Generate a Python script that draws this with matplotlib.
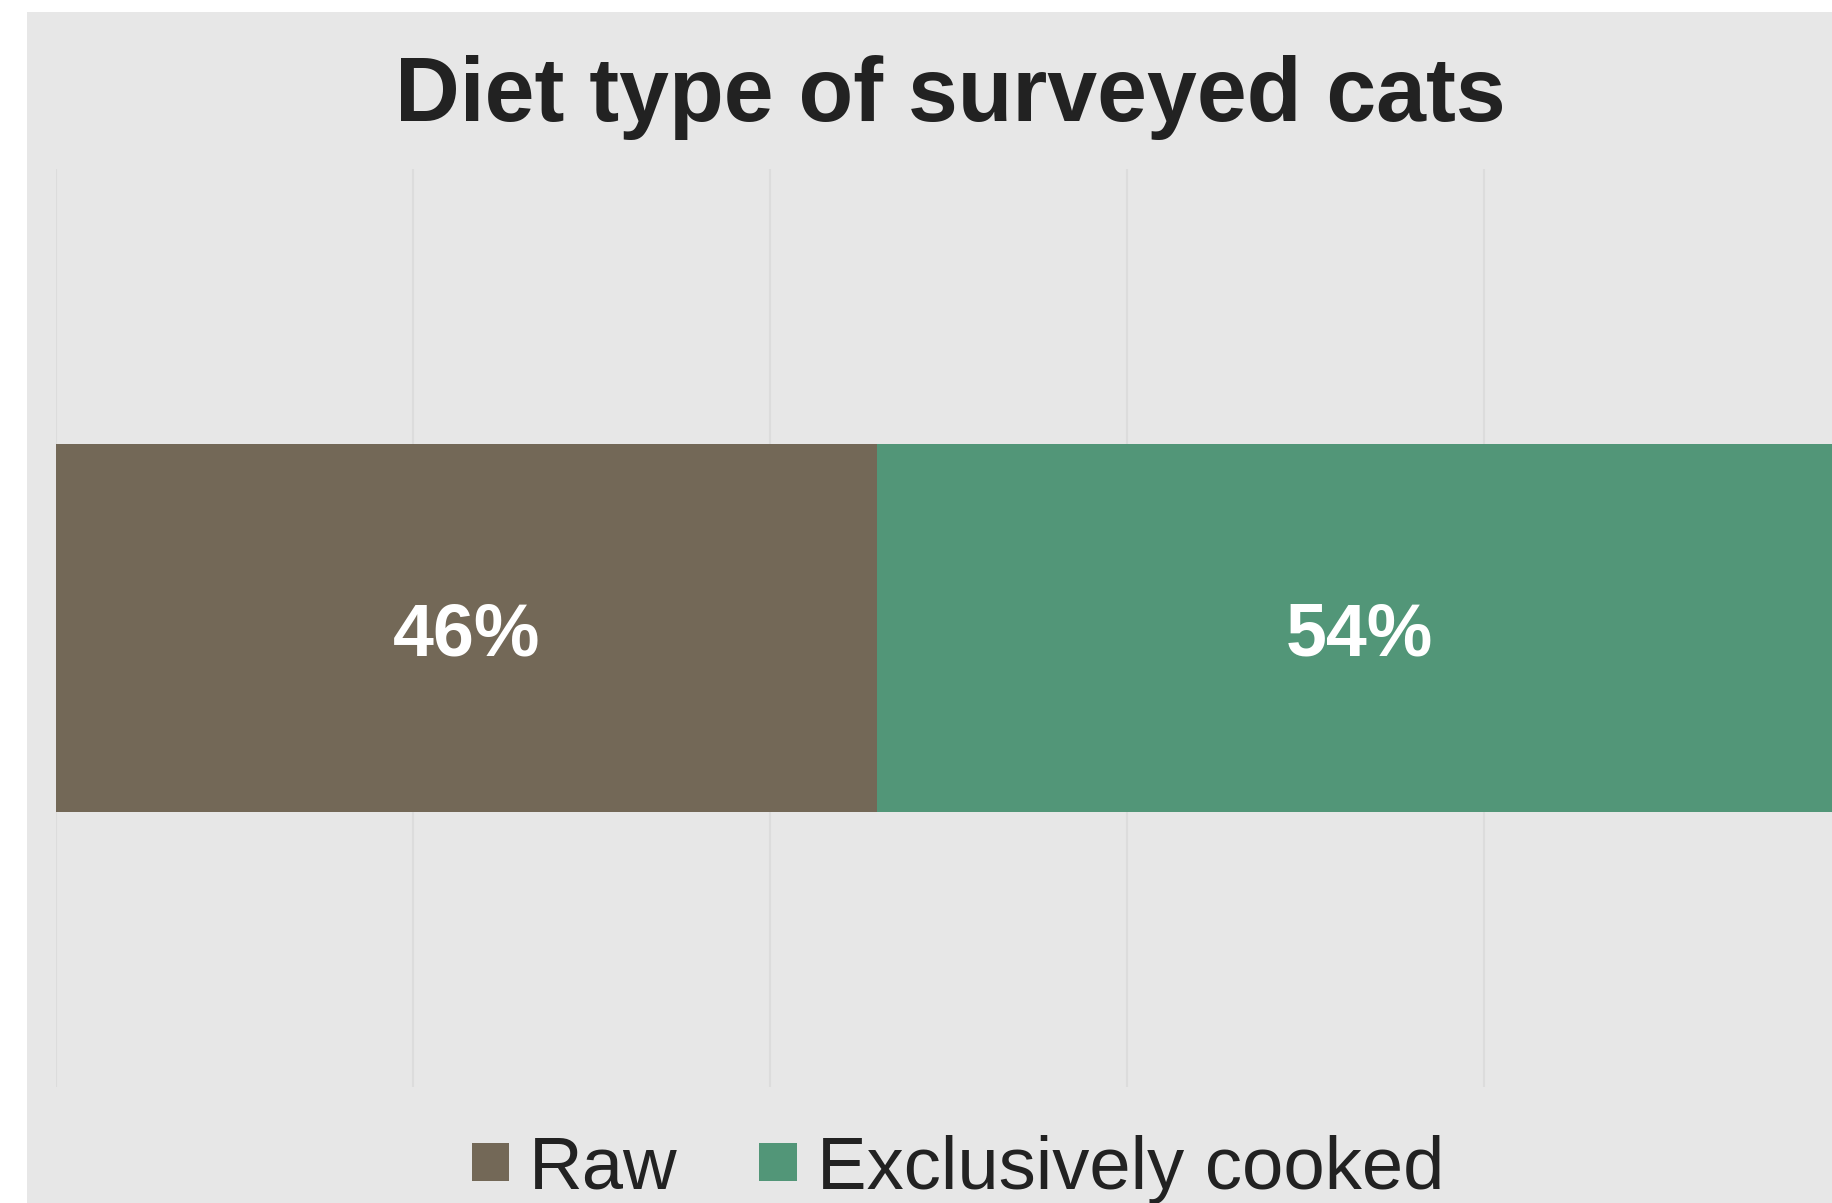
import matplotlib
matplotlib.use("Agg")
import matplotlib.pyplot as plt
from matplotlib.patches import Rectangle
from matplotlib.transforms import offset_copy

categories = ["Raw", "Exclusively cooked"]
values = [46, 54]
labels = ["46%", "54%"]
colors = ["#736857", "#529678"]
title = "Diet type of surveyed cats"

W, H = 1832, 1203
fig = plt.figure(figsize=(W / 100, H / 100), dpi=100)
fig.patch.set_facecolor("white")
fig.patches.append(Rectangle((27 / W, 0), 1.2, 1 - 12 / H, transform=fig.transFigure,
                             facecolor="#e7e7e7", edgecolor="none", zorder=-5))

ax = fig.add_axes([56 / W, 1 - 1087 / H, 1785 / W, 918 / H])
ax.set_zorder(1)
ax.set_facecolor("none")
label_tr = offset_copy(ax.transData, fig=fig, x=0, y=-27, units="dots")
left = 0
for cat, v, lab, c in zip(categories, values, labels, colors):
    ax.barh(0, v, left=left, height=0.4, color=c, label=cat, zorder=2)
    ax.text(left + v / 2, 0, lab, ha="center", va="baseline", color="white",
            fontsize=53, fontweight="bold", family="Liberation Sans", zorder=3,
            transform=label_tr)
    left += v
ax.set_xlim(0, 100)
ax.set_ylim(-0.5, 0.5)
ax.set_xticks([0, 20, 40, 60, 80, 100])
ax.set_yticks([])
ax.grid(axis="x", color="#dcdcdc", linewidth=1.5, zorder=1)
ax.set_axisbelow(True)
ax.tick_params(axis="x", length=0, labelbottom=False)
for s in ax.spines.values():
    s.set_visible(False)

fig.text(950 / W, 1 - 121 / H, title, ha="center", va="baseline",
         fontsize=64.5, fontweight="bold", family="Liberation Sans", color="#222222")

leg = fig.legend(loc="center", bbox_to_anchor=(958 / W, 1 - 1169 / H), ncol=2,
                 frameon=False, prop={"family": "Liberation Sans", "size": 53.5},
                 handlelength=0.5, handleheight=0.43, handletextpad=0.27,
                 columnspacing=1.1, borderpad=0, borderaxespad=0)
for t in leg.get_texts():
    t.set_color("#222222")

fig.savefig("out.png", dpi=100)
